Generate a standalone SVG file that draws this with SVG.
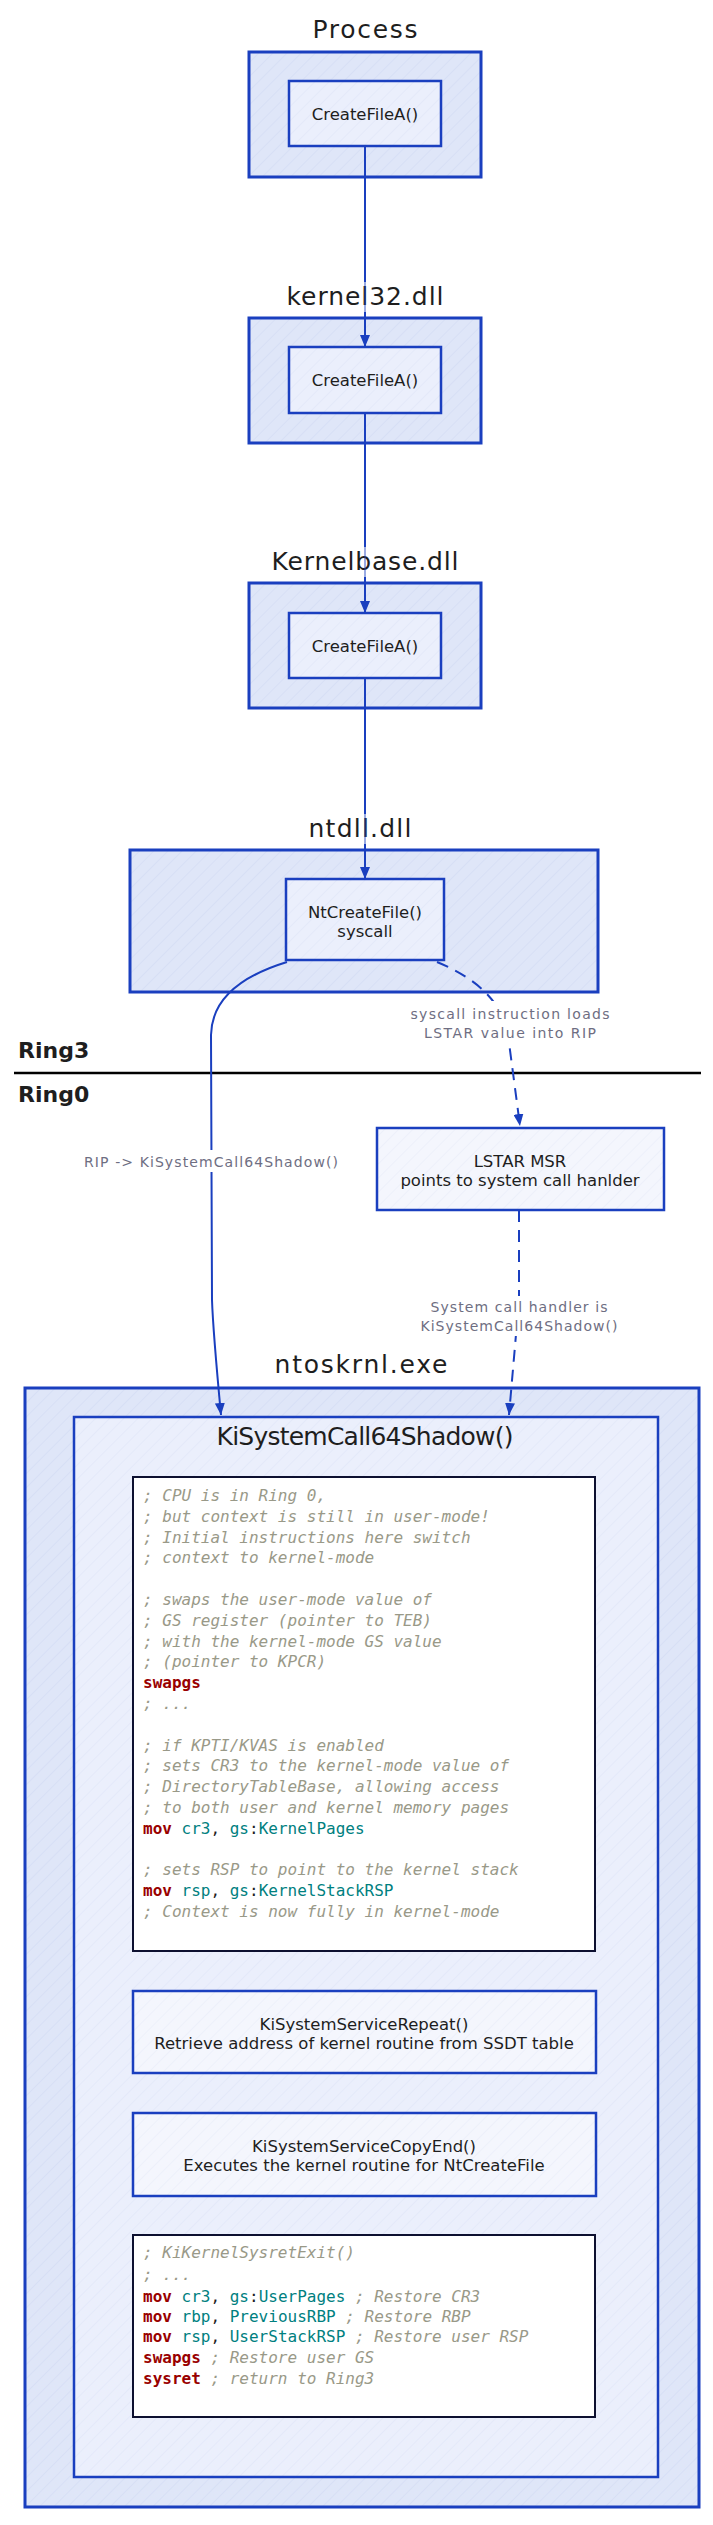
<svg xmlns="http://www.w3.org/2000/svg" width="713" height="2525" viewBox="0 0 713 2525">
<style>
.title{font-family:"DejaVu Sans","Noto Sans",sans-serif;font-size:25px;fill:#1e1e1e;text-anchor:middle}
.lbl{font-family:"DejaVu Sans","Noto Sans",sans-serif;font-size:16.5px;fill:#1e1e1e;text-anchor:middle}
.clbl{font-family:"DejaVu Sans","Noto Sans",sans-serif;font-size:14px;fill:#6e6e82;text-anchor:middle}
.ring{font-family:"DejaVu Sans","Noto Sans",sans-serif;font-size:22px;font-weight:bold;fill:#1e1e1e}
.outer{fill:url(#hA);stroke:#1a3fbf;stroke-width:3}
.inner{fill:url(#hB);stroke:#1a3fbf;stroke-width:2.5}
.light{fill:url(#hC);stroke:#1a3fbf;stroke-width:2.5}
.code{fill:#ffffff;stroke:#0d1030;stroke-width:2}
.conn{fill:none;stroke:#1a3fbf;stroke-width:2}
.dash{stroke-dasharray:12 8}
.mono{font-family:"DejaVu Sans Mono","Liberation Mono",monospace;font-size:16px;fill:#1e1e1e}
.c{fill:#999988;font-style:italic}
.k{fill:#990000;font-weight:bold}
.r{fill:#008080}
</style>
<defs>
<pattern id="hA" width="10" height="10" patternUnits="userSpaceOnUse" patternTransform="rotate(45)">
<rect width="10" height="10" fill="#dfe6f8"/>
<line x1="0" y1="0" x2="0" y2="10" stroke="#d0d9f2" stroke-width="1"/>
</pattern>
<pattern id="hB" width="10" height="10" patternUnits="userSpaceOnUse" patternTransform="rotate(45)">
<rect width="10" height="10" fill="#ebeffc"/>
<line x1="0" y1="0" x2="0" y2="10" stroke="#dee4f6" stroke-width="1"/>
</pattern>
<pattern id="hC" width="10" height="10" patternUnits="userSpaceOnUse" patternTransform="rotate(45)">
<rect width="10" height="10" fill="#f4f6fd"/>
<line x1="0" y1="0" x2="0" y2="10" stroke="#e7ebf8" stroke-width="1"/>
</pattern>
<marker id="arr" markerUnits="userSpaceOnUse" markerWidth="12" markerHeight="10" refX="12" refY="5" orient="auto">
<path d="M0,0 L12,5 L0,10 z" fill="#1a3fbf"/>
</marker>
<mask id="connmask" maskUnits="userSpaceOnUse" x="0" y="0" width="713" height="2525">
<rect width="713" height="2525" fill="#ffffff"/>
<rect x="355" y="282" width="20" height="30" fill="#707070"/>
<rect x="355" y="547" width="20" height="30" fill="#707070"/>
<rect x="355" y="814" width="20" height="30" fill="#707070"/>
<rect x="405" y="1001" width="210" height="42" fill="#000000"/>
<rect x="82" y="1150" width="260" height="22" fill="#000000"/>
<rect x="418" y="1296" width="202" height="40" fill="#000000"/>
</mask>
</defs>
<rect width="713" height="2525" fill="#ffffff"/>

<g id="process">
<text class="title" x="365" y="38" textLength="105">Process</text>
<rect class="outer" x="249" y="52" width="232" height="125"/>
<rect class="inner" x="289" y="81" width="152" height="65"/>
<text class="lbl" x="365" y="120">CreateFileA()</text>
</g>

<g id="kernel32">
<text class="title" x="365" y="305" textLength="157">kernel32.dll</text>
<rect class="outer" x="249" y="318" width="232" height="125"/>
<rect class="inner" x="289" y="347" width="152" height="66"/>
<text class="lbl" x="365" y="386">CreateFileA()</text>
</g>

<g id="kernelbase">
<text class="title" x="365" y="570" textLength="187">Kernelbase.dll</text>
<rect class="outer" x="249" y="583" width="232" height="125"/>
<rect class="inner" x="289" y="613" width="152" height="65"/>
<text class="lbl" x="365" y="652">CreateFileA()</text>
</g>

<g id="ntdll">
<text class="title" x="360" y="837" textLength="103">ntdll.dll</text>
<rect class="outer" x="130" y="850" width="468" height="142"/>
<rect class="inner" x="286" y="879" width="158" height="81"/>
<text class="lbl" x="365" y="918">NtCreateFile()</text>
<text class="lbl" x="365" y="937">syscall</text>
</g>

<g id="rings">
<text class="ring" x="18" y="1058">Ring3</text>
<line x1="14" y1="1073" x2="701" y2="1073" stroke="#000000" stroke-width="2.5"/>
<text class="ring" x="18" y="1102">Ring0</text>
</g>

<g id="lstar">
<rect class="light" x="377" y="1128" width="287" height="82"/>
<text class="lbl" x="520" y="1167">LSTAR MSR</text>
<text class="lbl" x="520" y="1186">points to system call hanlder</text>
</g>

<g id="ntoskrnl">
<text class="title" x="361" y="1373" textLength="173">ntoskrnl.exe</text>
<rect class="outer" x="25" y="1388" width="674" height="1119"/>
</g>

<g id="kisystemcall64shadow">
<rect class="inner" x="74" y="1417" width="584" height="1060"/>
<text class="title" x="365" y="1445" textLength="297">KiSystemCall64Shadow()</text>
</g>

<g id="code-entry">
<rect class="code" x="133" y="1477" width="462" height="474"/>
<text class="mono" xml:space="preserve">
<tspan x="143" y="1501" class="c">; CPU is in Ring 0,</tspan>
<tspan x="143" y="1522" class="c">; but context is still in user-mode!</tspan>
<tspan x="143" y="1543" class="c">; Initial instructions here switch</tspan>
<tspan x="143" y="1563" class="c">; context to kernel-mode</tspan>
<tspan x="143" y="1605" class="c">; swaps the user-mode value of</tspan>
<tspan x="143" y="1626" class="c">; GS register (pointer to TEB)</tspan>
<tspan x="143" y="1647" class="c">; with the kernel-mode GS value</tspan>
<tspan x="143" y="1667" class="c">; (pointer to KPCR)</tspan>
<tspan x="143" y="1688" class="k">swapgs</tspan>
<tspan x="143" y="1709" class="c">; ...</tspan>
<tspan x="143" y="1751" class="c">; if KPTI/KVAS is enabled</tspan>
<tspan x="143" y="1771" class="c">; sets CR3 to the kernel-mode value of</tspan>
<tspan x="143" y="1792" class="c">; DirectoryTableBase, allowing access</tspan>
<tspan x="143" y="1813" class="c">; to both user and kernel memory pages</tspan>
<tspan x="143" y="1834"><tspan class="k">mov</tspan> <tspan class="r">cr3</tspan>, <tspan class="r">gs</tspan>:<tspan class="r">KernelPages</tspan></tspan>
<tspan x="143" y="1875" class="c">; sets RSP to point to the kernel stack</tspan>
<tspan x="143" y="1896"><tspan class="k">mov</tspan> <tspan class="r">rsp</tspan>, <tspan class="r">gs</tspan>:<tspan class="r">KernelStackRSP</tspan></tspan>
<tspan x="143" y="1917" class="c">; Context is now fully in kernel-mode</tspan>
</text>
</g>

<g id="kisystemservicerepeat">
<rect class="light" x="133" y="1991" width="463" height="82"/>
<text class="lbl" x="364" y="2030">KiSystemServiceRepeat()</text>
<text class="lbl" x="364" y="2049">Retrieve address of kernel routine from SSDT table</text>
</g>

<g id="kisystemservicecopyend">
<rect class="light" x="133" y="2113" width="463" height="83"/>
<text class="lbl" x="364" y="2152">KiSystemServiceCopyEnd()</text>
<text class="lbl" x="364" y="2171">Executes the kernel routine for NtCreateFile</text>
</g>

<g id="code-exit">
<rect class="code" x="133" y="2235" width="462" height="182"/>
<text class="mono" xml:space="preserve">
<tspan x="143" y="2258" class="c">; KiKernelSysretExit()</tspan>
<tspan x="143" y="2280" class="c">; ...</tspan>
<tspan x="143" y="2302"><tspan class="k">mov</tspan> <tspan class="r">cr3</tspan>, <tspan class="r">gs</tspan>:<tspan class="r">UserPages</tspan> <tspan class="c">; Restore CR3</tspan></tspan>
<tspan x="143" y="2322"><tspan class="k">mov</tspan> <tspan class="r">rbp</tspan>, <tspan class="r">PreviousRBP</tspan> <tspan class="c">; Restore RBP</tspan></tspan>
<tspan x="143" y="2342"><tspan class="k">mov</tspan> <tspan class="r">rsp</tspan>, <tspan class="r">UserStackRSP</tspan> <tspan class="c">; Restore user RSP</tspan></tspan>
<tspan x="143" y="2363"><tspan class="k">swapgs</tspan> <tspan class="c">; Restore user GS</tspan></tspan>
<tspan x="143" y="2384"><tspan class="k">sysret</tspan> <tspan class="c">; return to Ring3</tspan></tspan>
</text>
</g>

<g id="connectors">
<g mask="url(#connmask)">
<path class="conn" d="M365,146 L365,347" marker-end="url(#arr)"/>
<path class="conn" d="M365,413 L365,613" marker-end="url(#arr)"/>
<path class="conn" d="M365,678 L365,879" marker-end="url(#arr)"/>
<path class="conn" d="M287,962 Q212,985 211,1035 L212,1300 Q213,1330 221,1415" marker-end="url(#arr)"/>
<path class="conn dash" d="M437,962 Q500,988 508,1035 L520,1126" marker-end="url(#arr)"/>
<path class="conn dash" d="M519,1210 L519,1300 L509,1415" marker-end="url(#arr)"/>
</g>
<text class="clbl" x="510" y="1019" textLength="199">syscall instruction loads</text>
<text class="clbl" x="510" y="1038" textLength="172">LSTAR value into RIP</text>
<text class="clbl" x="211" y="1167" textLength="254">RIP -&gt; KiSystemCall64Shadow()</text>
<text class="clbl" x="519" y="1312" textLength="177">System call handler is</text>
<text class="clbl" x="519" y="1331" textLength="197">KiSystemCall64Shadow()</text>
</g>
</svg>
